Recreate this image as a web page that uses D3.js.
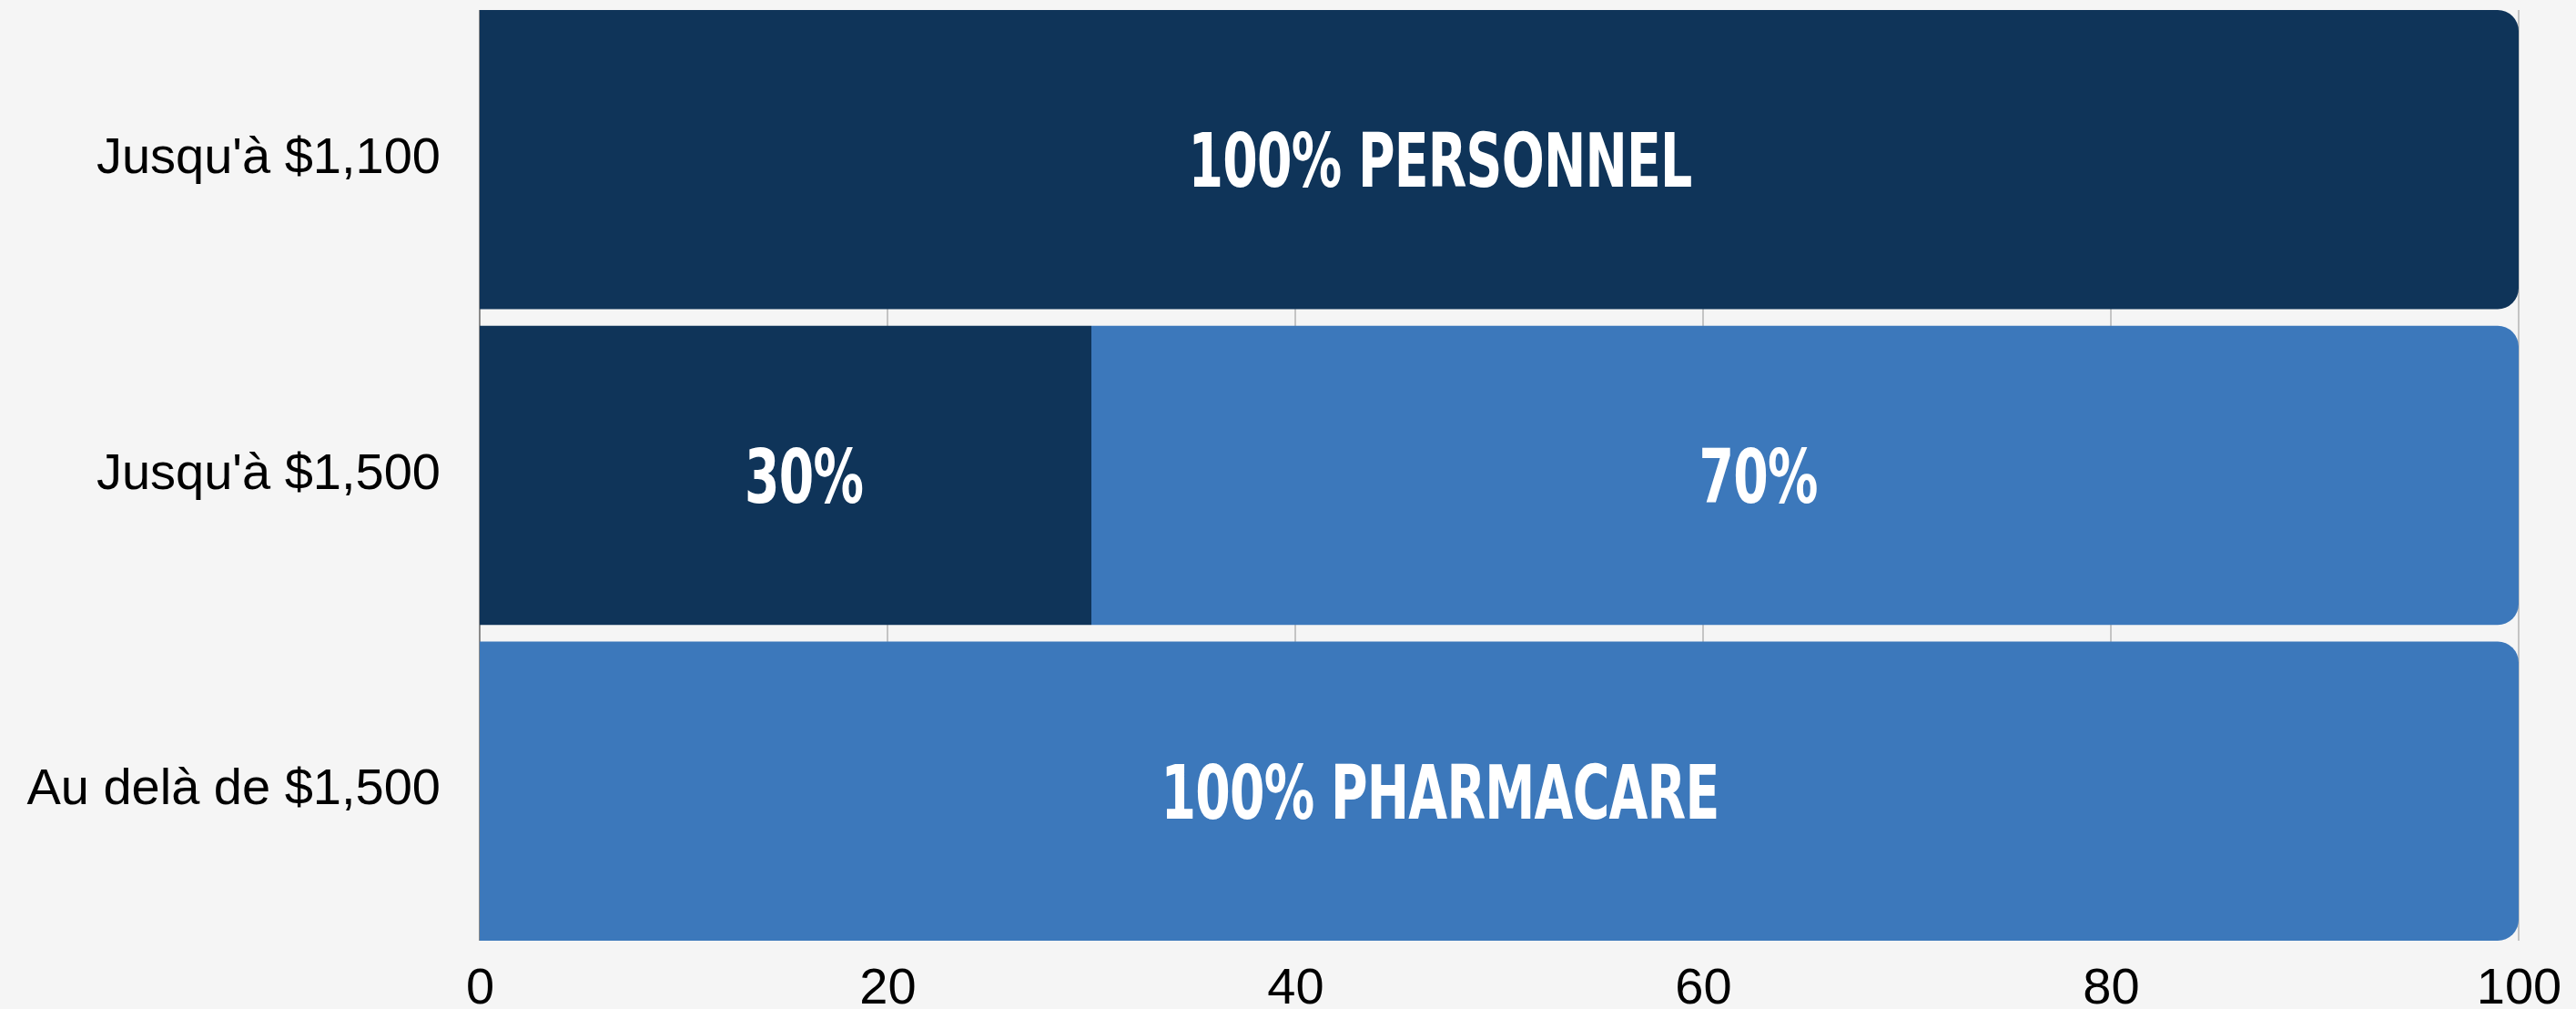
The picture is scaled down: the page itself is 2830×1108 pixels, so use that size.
<!DOCTYPE html>
<html>
<head>
<meta charset="utf-8">
<script src="https://cdn.jsdelivr.net/npm/d3@7"></script>
<style>
  html, body { margin: 0; padding: 0; background: #f5f5f5; }
  svg { display: block; }
</style>
</head>
<body>
<svg id="chart" width="2830" height="1108"></svg>
<script>
// ---- data ----
const categories = ["Jusqu'à $1,100", "Jusqu'à $1,500", "Au delà de $1,500"];
const seriesNames = ["Personnel", "Pharmacare"];
const personnel = [100, 30, 0];
const pharmacare = [0, 70, 100];
const segmentLabels = [["100% PERSONNEL", ""], ["30%", "70%"], ["", "100% PHARMACARE"]];
// where each label sits on the value axis
const labelAt = [[47.1, null], [15.9, 62.7], [null, 47.1]];
const xTicks = [0, 20, 40, 60, 80, 100];

// ---- layout ----
const W = 2830, H = 1108;
const margin = { top: 11, right: 63, bottom: 75, left: 527 };
const svg = d3.select("#chart");
const g = svg.append("g").attr("transform", `translate(${margin.left},${margin.top})`);
const iw = W - margin.left - margin.right;
const ih = H - margin.top - margin.bottom;

const x = d3.scaleLinear().domain([0, 100]).range([0, iw]);
const y = d3.scaleBand().domain(categories).range([0, ih]).paddingInner(0.053).paddingOuter(0);
const color = d3.scaleOrdinal().domain(seriesNames).range(["#0f3459", "#3c78bb"]);

// gridlines
g.append("g").selectAll("line").data(xTicks).join("line")
  .attr("x1", d => x(d)).attr("x2", d => x(d))
  .attr("y1", 0).attr("y2", ih)
  .attr("stroke", d => d === 0 ? "#8a8a8a" : "#c4c4c4")
  .attr("stroke-width", 2);

// stacked data
const rows = categories.map((c, i) => ({ cat: c, Personnel: personnel[i], Pharmacare: pharmacare[i] }));
const stack = d3.stack().keys(seriesNames)(rows);

const R = 23;
function segPath(x0, x1, y0, h, roundRight) {
  const w = x1 - x0;
  if (!roundRight) return `M${x0},${y0}h${w}v${h}h${-w}Z`;
  const r = Math.min(R, w / 2, h / 2);
  return `M${x0},${y0}H${x1 - r}A${r},${r} 0 0 1 ${x1},${y0 + r}V${y0 + h - r}A${r},${r} 0 0 1 ${x1 - r},${y0 + h}H${x0}Z`;
}

stack.forEach((layer) => {
  g.append("g").attr("fill", color(layer.key))
    .selectAll("path").data(layer).join("path")
    .attr("d", (d, i) => {
      if (d[1] - d[0] <= 0) return null;
      const isLast = d[1] >= 100;
      return segPath(x(d[0]), x(d[1]), y(categories[i]), y.bandwidth(), isLast);
    });
});

// segment labels (condensed bold)
categories.forEach((c, i) => {
  seriesNames.forEach((s, si) => {
    const txt = segmentLabels[i][si];
    if (!txt) return;
    const cx = x(labelAt[i][si]);
    const cy = y(c) + y.bandwidth() / 2 + 30;
    g.append("text")
      .attr("transform", `translate(${cx},${cy}) scale(0.75,1)`)
      .attr("text-anchor", "middle")
      .attr("fill", "#ffffff")
      .style("font-family", "'DejaVu Sans Condensed', 'DejaVu Sans', sans-serif")
      .style("font-stretch", "condensed")
      .style("font-weight", "bold")
      .style("font-size", "82px")
      .style("letter-spacing", "-1px")
      .text(txt);
  });
});

// y axis
const yAxis = g.append("g").call(d3.axisLeft(y).tickSize(0).tickPadding(43));
yAxis.select(".domain").remove();
yAxis.selectAll("text")
  .attr("dy", "14.5px")
  .style("font-family", "'Liberation Sans', Arial, sans-serif")
  .style("font-size", "56px")
  .attr("fill", "#000");

// x axis
const xAxis = g.append("g").attr("transform", `translate(0,${ih})`)
  .call(d3.axisBottom(x).tickValues(xTicks).tickSize(0).tickPadding(29));
xAxis.select(".domain").remove();
xAxis.selectAll("text")
  .style("font-family", "'Liberation Sans', Arial, sans-serif")
  .style("font-size", "56px")
  .attr("fill", "#000");
</script>
</body>
</html>
